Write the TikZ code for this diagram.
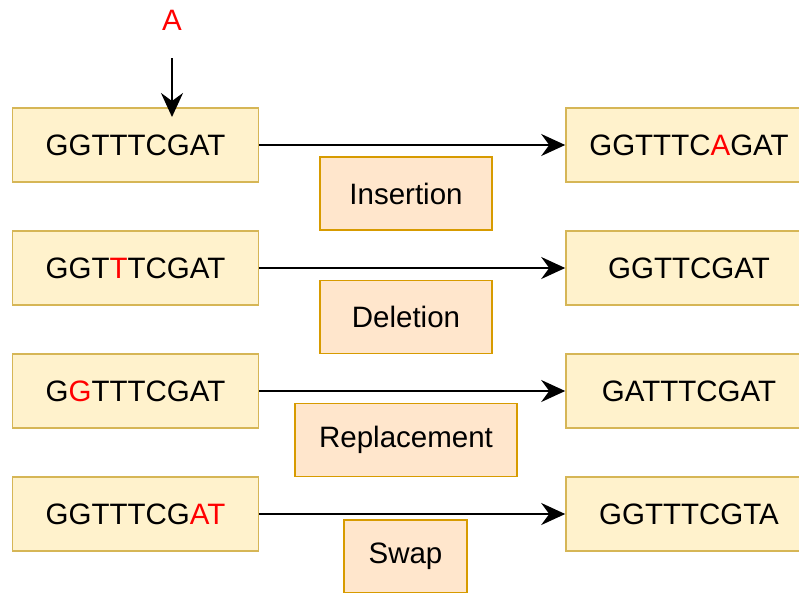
\documentclass[tikz,border=0pt]{standalone}
\usepackage{fontspec}
\setmainfont{Liberation Sans}
\usetikzlibrary{arrows.meta}
\definecolor{seqfill}{HTML}{FFF2CC}
\definecolor{seqline}{HTML}{D6B656}
\definecolor{opfill}{HTML}{FFE6CC}
\definecolor{opline}{HTML}{D79B00}
\definecolor{mut}{HTML}{FF0000}
\tikzset{
  seq/.style={draw=seqline, fill=seqfill, line width=1.6pt, minimum width=246pt,
    minimum height=74pt, inner sep=0pt, font=\fontsize{29.5}{34}\selectfont},
  op/.style={draw=opline, fill=opfill, line width=1.6pt, minimum height=73pt,
    inner sep=0pt, font=\fontsize{29.5}{34}\selectfont},
  mutarrow/.style={line width=2.2pt, -{Stealth[length=24pt,width=22pt,inset=8pt]}}
}
\newcommand{\mt}[1]{\textcolor{mut}{#1}}
\begin{document}
\begin{tikzpicture}[x=1pt,y=-1pt]
\clip (0,0) rectangle (799,592);
\fill[white] (0,0) rectangle (799,592);
% sequences before
\node[seq] (l1) at (135.5,145) {GGTTTCGAT};
\node[seq] (l2) at (135.5,268) {GGT\mt{T}TCGAT};
\node[seq] (l3) at (135.5,391) {G\mt{G}TTTCGAT};
\node[seq] (l4) at (135.5,514) {GGTTTCG\mt{AT}};
% sequences after
\node[seq] (r1) at (689,145) {GGTTTC\mt{A}GAT};
\node[seq] (r2) at (689,268) {GGTTCGAT};
\node[seq] (r3) at (689,391) {GATTTCGAT};
\node[seq] (r4) at (689,514) {GGTTTCGTA};
% operations
\node[op, minimum width=172pt] (ins) at (406,193.5) {Insertion};
\node[op, minimum width=172pt] (del) at (406,317) {Deletion};
\node[op, minimum width=222pt] (rep) at (406,440) {Replacement};
\node[op, minimum width=123pt] (swp) at (405.5,556.5) {Swap};
% inserted base
\node[font=\fontsize{29.5}{34}\selectfont, text=mut] (base) at (172,20) {A};
\coordinate (base top) at (172,58);
\coordinate (base tip) at (172,117);
\path [mutarrow]
    (base top) edge (base tip)
    (l1) edge (r1)
    (l2) edge (r2)
    (l3) edge (r3)
    (l4) edge (r4);
\end{tikzpicture}
\end{document}
